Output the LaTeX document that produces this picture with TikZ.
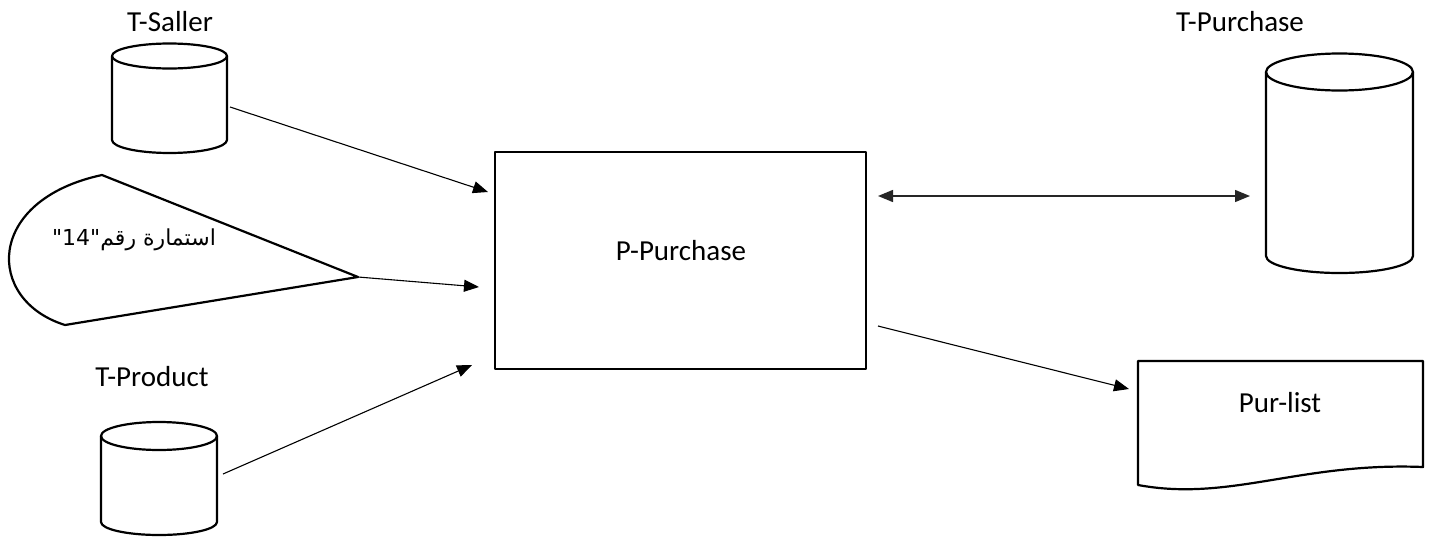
\documentclass[tikz,border=0pt]{standalone}
\usepackage{fontspec}
\setmainfont{Carlito}
\newfontfamily\arabicfont[Script=Arabic]{DejaVu Sans}
\TeXXeTstate=1
\usetikzlibrary{arrows.meta}
\tikzset{
  shapeline/.style={draw=black, line width=2.2pt, line join=round},
  conn/.style={draw=black, line width=1.1pt, -{Triangle[length=15pt,width=12pt]}},
  biconn/.style={draw=black!85, line width=1.4pt, {Triangle[length=15pt,width=12pt]}-{Triangle[length=15pt,width=12pt]}},
  lbl/.style={inner sep=0pt, font=\fontsize{29}{33}\selectfont},
  arlbl/.style={inner sep=0pt, font=\arabicfont\fontsize{22}{26}\selectfont},
}
\begin{document}
\begin{tikzpicture}[x=1pt,y=-1pt]
\useasboundingbox[fill=white] (0,0) rectangle (1436,544);

% T-Saller cylinder
\draw[shapeline] (112,56) -- (112,140) arc[start angle=180,end angle=360,x radius=57.5pt,y radius=13pt] -- (227,56);
\draw[shapeline] (169.5,56) ellipse[x radius=57.5pt,y radius=12.5pt];
\node[lbl] (tsaller) at (170,22) {T-Saller};

% T-Product cylinder
\draw[shapeline] (101,436) -- (101,522) arc[start angle=180,end angle=360,x radius=58pt,y radius=13pt] -- (217,436);
\draw[shapeline] (159,436) ellipse[x radius=58pt,y radius=14pt];
\node[lbl] (tproduct) at (152,377) {T-Product};

% T-Purchase cylinder
\draw[shapeline] (1266,72) -- (1266,256) arc[start angle=180,end angle=360,x radius=73.5pt,y radius=17pt] -- (1413,72);
\draw[shapeline] (1339.5,72) ellipse[x radius=73.5pt,y radius=18.5pt];
\node[lbl] (tpurchase) at (1240,22) {T-Purchase};

% form shape
\draw[shapeline] (102,175) -- (358,277) -- (65,325) .. controls (-15,300) and (-15,200) .. (102,175) -- cycle;
\node[arlbl] (form) at (134,240) {\beginR استمارة رقم"\beginL14\endL"\endR};

% process box
\node[shapeline, minimum width=371pt, minimum height=217pt, inner sep=0pt] (proc) at (680.5,260.5) {};
\node[lbl] (proctext) at (681,251) {P-Purchase};

% document shape
\draw[shapeline] (1138,361) -- (1423,361) -- (1423,467) .. controls (1300,462) and (1230,502) .. (1138,485) -- cycle;
\node[lbl] (purlist) at (1280,403) {Pur-list};

% connector ends
\coordinate (s1) at (230,107);
\coordinate (p1) at (488,192);
\coordinate (s2) at (358,277);
\coordinate (p2) at (479,287);
\coordinate (s3) at (223,474);
\coordinate (p3) at (472,365);
\coordinate (b1) at (878,196);
\coordinate (b2) at (1250,196);
\coordinate (s5) at (878,326);
\coordinate (p5) at (1129,389);

\draw[conn] (s1) -- (p1);
\draw[conn] (s2) -- (p2);
\draw[conn] (s3) -- (p3);
\draw[biconn] (b1) -- (b2);
\draw[conn] (s5) -- (p5);
\end{tikzpicture}
\end{document}
